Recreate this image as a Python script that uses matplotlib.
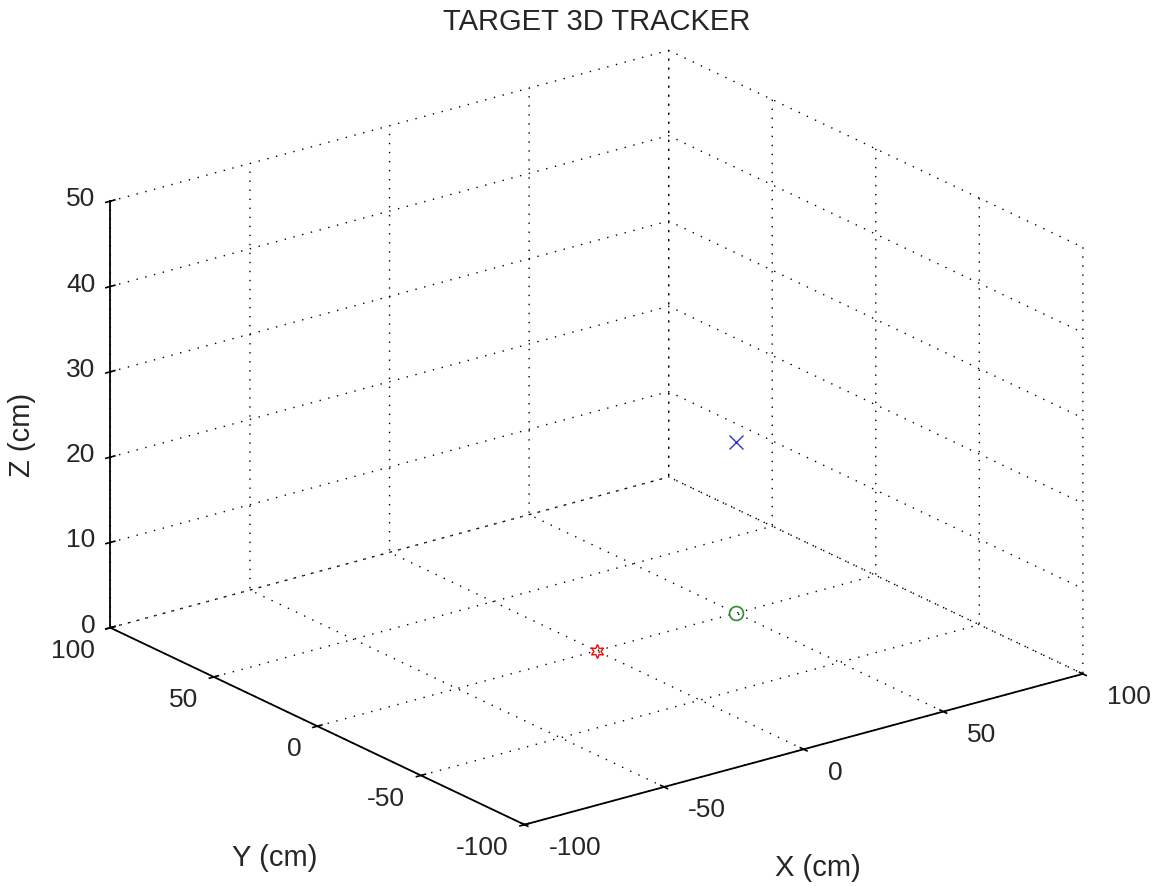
import numpy as np
import matplotlib
matplotlib.use("Agg")
import matplotlib.pyplot as plt
from matplotlib.ticker import NullFormatter
from mpl_toolkits.mplot3d import proj3d

# MATLAB-like look
plt.rcParams['font.family'] = ['Liberation Sans', 'DejaVu Sans']

# target positions (cm)
red_pos = [0, 0, 0]
green_pos = [50, 0, 0]
blue_pos = [50, 0, 20]

x_ticks = [-100, -50, 0, 50, 100]
y_ticks = [-100, -50, 0, 50, 100]
z_ticks = [0, 10, 20, 30, 40, 50]

W, H = 1175, 887
txt_color = '#262626'
fig = plt.figure(figsize=(W / 100, H / 100), dpi=100)
ax = fig.add_axes([-0.0045, -0.1106, 1.0, 1.2], projection='3d', proj_type='ortho')
ax.view_init(elev=21, azim=-127.0)
ax.set_box_aspect((1.016, 1, 0.664), zoom=0.987)

ax.plot([red_pos[0]], [red_pos[1]], [red_pos[2]], linestyle='none',
        marker=(6, 1, 0), markersize=10, markerfacecolor='none',
        markeredgecolor='red', markeredgewidth=1.0)
ax.plot([green_pos[0]], [green_pos[1]], [green_pos[2]], linestyle='none',
        marker='o', markersize=10, markerfacecolor='none',
        markeredgecolor='#2e8b2e', markeredgewidth=1.2)
ax.plot([blue_pos[0]], [blue_pos[1]], [blue_pos[2]], linestyle='none',
        marker='x', markersize=10, markeredgecolor='#3535c8', markeredgewidth=1.0)

ax.set_xlim(-100, 100)
ax.set_ylim(-100, 100)
ax.set_zlim(0, 50)
ax.set_xticks(x_ticks)
ax.set_yticks(y_ticks)
ax.set_zticks(z_ticks)

for axis in (ax.xaxis, ax.yaxis, ax.zaxis):
    axis.set_pane_color((1, 1, 1, 0))
    axis.pane.set_edgecolor('none')
    axis.line.set_color('black')
    axis.line.set_linewidth(1.3)
    axis._axinfo['grid']['color'] = 'black'
    axis._axinfo['grid']['linewidth'] = 1.0
    axis._axinfo['grid']['linestyle'] = (0, (1, 5.5))
    axis._axinfo['tick']['inward_factor'] = 0.1
    axis._axinfo['tick']['outward_factor'] = 0.1
    axis._axinfo['tick']['linewidth'] = {True: 1.2, False: 1.0}
    axis.set_major_formatter(NullFormatter())
    axis.set_tick_params(label1On=False, label2On=False)

# tick labels, placed MATLAB style (hyphen minus, right/left aligned);
# project the 3D anchor to the 2D plane and write plain 2D text there
M = ax.get_proj()


def tick_label(x, y, z, s, ha):
    px, py, _ = proj3d.proj_transform(x, y, z, M)
    ax.text2D(px, py, s, transform=ax.transData, fontsize=19,
              color=txt_color, ha=ha, va='center')


for t in x_ticks:
    tick_label(t, -111.6, -1.3, str(t), 'left')
for t in y_ticks:
    tick_label(-105.7, t, -2.1, str(t), 'right')
for t in z_ticks:
    tick_label(-102, 104.5, t, str(t), 'right')

# title / axis labels placed like the MATLAB figure
fig.text(597 / W, 1 - 22 / H, 'TARGET 3D TRACKER', fontsize=21,
         color=txt_color, ha='center', va='center')
fig.text(22 / W, 1 - 435 / H, 'Z (cm)', fontsize=21, rotation=90,
         color=txt_color, ha='center', va='center')
fig.text(275 / W, 1 - 858 / H, 'Y (cm)', fontsize=21, color=txt_color,
         ha='center', va='center')
fig.text(818 / W, 1 - 868 / H, 'X (cm)', fontsize=21, color=txt_color,
         ha='center', va='center')

fig.savefig('out.png', dpi=100)
